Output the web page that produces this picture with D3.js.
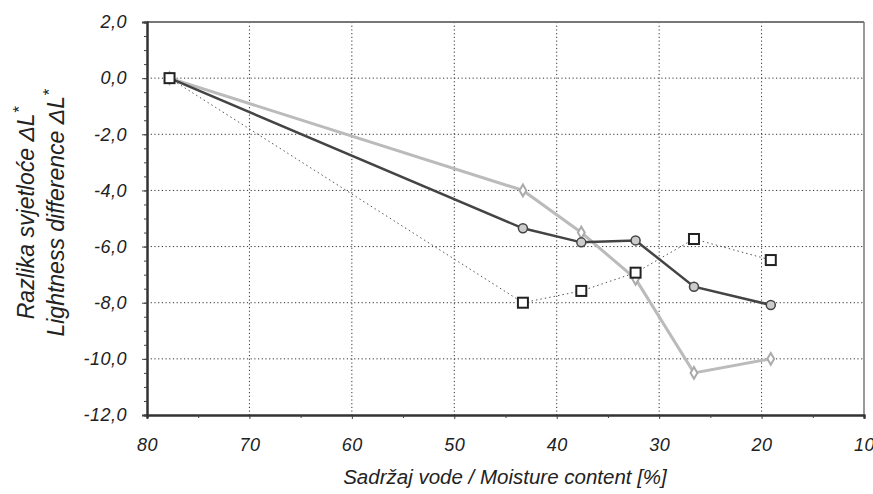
<!DOCTYPE html>
<html lang="en">
<head>
<meta charset="utf-8">
<title>Lightness difference vs moisture content</title>
<script src="https://d3js.org/d3.v7.min.js"></script>
<style>
  body { margin: 0; background: #fff; }
  text { font-family: "Liberation Sans", Arial, sans-serif; font-style: italic; fill: #222; }
</style>
</head>
<body>
<script>
// moisture content [%] for each measuring point
var moisture = [77.8, 43.3, 37.6, 32.3, 26.6, 19.1];
// series values (lightness difference dL*)
var darkSeries = [0.0, -5.35, -5.85, -5.78, -7.43, -8.08];
var squareSeries = [0.0, -8.0, -7.58, -6.93, -5.73, -6.48];
var lightSeries = [0.0, -4.0, -5.5, -7.15, -10.5, -10.0];

var xTicks = [80, 70, 60, 50, 40, 30, 20, 10];
var yTicks = [2, 0, -2, -4, -6, -8, -10, -12];

var w = 873, h = 494;
var margin = {left: 147, right: 9, top: 22, bottom: 79};

var svg = d3.select("body").append("svg")
  .attr("width", w).attr("height", h);

var x = d3.scaleLinear().domain([80, 10]).range([margin.left, w - margin.right]);
var y = d3.scaleLinear().domain([2, -12]).range([margin.top, h - margin.bottom]);

var fmt = function(d) { return d3.format(".1f")(d).replace(".", ",").replace("−", "-"); };

// gridlines
svg.append("g").selectAll("line")
  .data(yTicks.filter(function(d) { return d > -12 && d < 2; }))
  .enter().append("line")
  .attr("x1", x(80)).attr("x2", x(10))
  .attr("y1", function(d) { return y(d); }).attr("y2", function(d) { return y(d); })
  .attr("stroke", "#333").attr("stroke-width", 1).attr("stroke-dasharray", "1.2,2.5");
svg.append("g").selectAll("line")
  .data(xTicks.filter(function(d) { return d < 80 && d > 10; }))
  .enter().append("line")
  .attr("y1", y(2)).attr("y2", y(-12))
  .attr("x1", function(d) { return x(d); }).attr("x2", function(d) { return x(d); })
  .attr("stroke", "#333").attr("stroke-width", 1).attr("stroke-dasharray", "1.2,2.5");

// frame
svg.append("line").attr("x1", x(80)).attr("x2", x(10)).attr("y1", y(2)).attr("y2", y(2))
  .attr("stroke", "#777").attr("stroke-width", 2);
svg.append("line").attr("x1", x(10)).attr("x2", x(10)).attr("y1", y(2)).attr("y2", y(-12))
  .attr("stroke", "#777").attr("stroke-width", 1.5);

// axes
var yAxis = d3.axisLeft(y).tickValues(yTicks).tickFormat(fmt).tickSize(5).tickPadding(15);
var yMinor = d3.axisLeft(y).tickValues(d3.range(2, -12.01, -0.5)).tickFormat("").tickSize(3);
var xAxis = d3.axisBottom(x).tickValues(xTicks).tickFormat(d3.format("d")).tickSize(4).tickPadding(19);
var xMinor = d3.axisBottom(x).tickValues(d3.range(75, 10, -10)).tickFormat("").tickSize(3);

var gy = svg.append("g").attr("transform", "translate(" + x(80) + ",0)").call(yAxis);
svg.append("g").attr("transform", "translate(" + x(80) + ",0)").call(yMinor);
var gx = svg.append("g").attr("transform", "translate(0," + y(-12) + ")").call(xAxis);
svg.append("g").attr("transform", "translate(0," + y(-12) + ")").call(xMinor);

svg.selectAll(".domain").attr("stroke", "#333").attr("stroke-width", 2);
svg.selectAll(".tick line").attr("stroke", "#444");
[gx, gy].forEach(function(g) {
  g.selectAll("text").attr("font-size", 18).attr("letter-spacing", 0.5)
    .attr("font-family", "Liberation Sans").attr("font-style", "italic").attr("fill", "#222");
});

// series
var line = function(vals) {
  return d3.line().x(function(d, i) { return x(moisture[i]); }).y(function(d) { return y(d); })(vals);
};

svg.append("path").attr("d", line(squareSeries)).attr("fill", "none")
  .attr("stroke", "#555").attr("stroke-width", 1).attr("stroke-dasharray", "1.5,3");
svg.append("path").attr("d", line(lightSeries)).attr("fill", "none")
  .attr("stroke", "#bbb").attr("stroke-width", 3);
svg.append("path").attr("d", line(darkSeries)).attr("fill", "none")
  .attr("stroke", "#444").attr("stroke-width", 2.5);

svg.append("g").selectAll("path").data(lightSeries).enter().append("path")
  .attr("d", d3.symbol(d3.symbolDiamond, 40))
  .attr("transform", function(d, i) { return "translate(" + x(moisture[i]) + "," + y(d) + ")"; })
  .attr("fill", "#fff").attr("stroke", "#aaa").attr("stroke-width", 2);

svg.append("g").selectAll("circle").data(darkSeries).enter().append("circle")
  .attr("cx", function(d, i) { return x(moisture[i]); })
  .attr("cy", function(d) { return y(d); })
  .attr("r", 4.5)
  .attr("fill", "#ccc").attr("stroke", "#444").attr("stroke-width", 1.5);

svg.append("g").selectAll("rect").data(squareSeries).enter().append("rect")
  .attr("x", function(d, i) { return x(moisture[i]) - 5; })
  .attr("y", function(d) { return y(d) - 5; })
  .attr("width", 10).attr("height", 10)
  .attr("fill", "#fff").attr("stroke", "#222").attr("stroke-width", 2);

// axis titles
var yt = svg.append("text").attr("transform", "translate(0,213) rotate(-90)")
  .attr("text-anchor", "middle").attr("font-size", 23);
yt.append("tspan").attr("x", 0).attr("y", 34).text("Razlika svjetloće ΔL");
yt.append("tspan").attr("dy", -9).attr("font-size", 17).text("*");
yt.append("tspan").attr("x", 0).attr("y", 64).text("Lightness difference ΔL");
yt.append("tspan").attr("dy", -9).attr("font-size", 17).text("*");

svg.append("text").attr("x", 505).attr("y", 484).attr("text-anchor", "middle")
  .attr("font-size", 20.5).text("Sadržaj vode / Moisture content  [%]");
</script>
</body>
</html>
